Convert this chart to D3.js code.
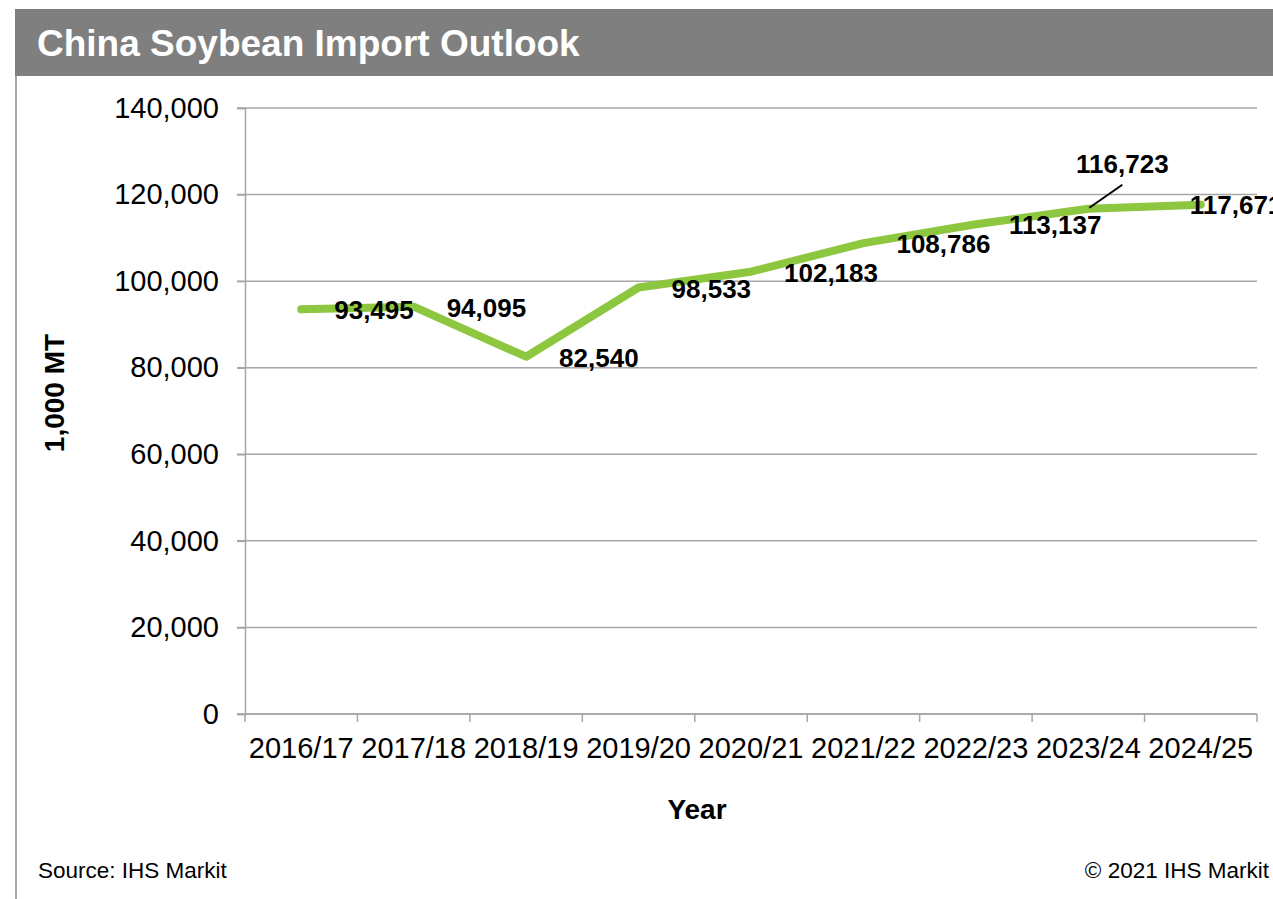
<!DOCTYPE html>
<html>
<head>
<meta charset="utf-8">
<script src="https://cdn.jsdelivr.net/npm/d3@7"></script>
<style>
  html, body { margin: 0; padding: 0; background: #fff; }
  svg { display: block; font-family: "Liberation Sans", Arial, sans-serif; }
</style>
</head>
<body>
<svg id="chart" width="1273" height="899"></svg>
<script>
const categories = ["2016/17","2017/18","2018/19","2019/20","2020/21","2021/22","2022/23","2023/24","2024/25"];
const imports = [93495, 94095, 82540, 98533, 102183, 108786, 113137, 116723, 117671];
const yTicks = [0, 20000, 40000, 60000, 80000, 100000, 120000, 140000];

const svg = d3.select("#chart");
const W = 1273, H = 899;

// Header bar
svg.append("rect").attr("x", 15).attr("y", 9).attr("width", W - 15).attr("height", 67).attr("fill", "#7f7f7f");
svg.append("text").attr("x", 37).attr("y", 56)
  .attr("fill", "#fff").attr("font-size", 37).attr("font-weight", "bold")
  .text("China Soybean Import Outlook");

// Left border
svg.append("line").attr("x1", 16).attr("x2", 16).attr("y1", 76).attr("y2", H)
  .attr("stroke", "#a6a6a6").attr("stroke-width", 2);

const x0 = 245, x1 = 1257, yTop = 108, yBot = 714;
const x = d3.scaleBand().domain(categories).range([x0, x1]).paddingInner(0).paddingOuter(0);
const y = d3.scaleLinear().domain([0, 140000]).range([yBot, yTop]);
const fmt = d3.format(",");

// Gridlines
svg.append("g").selectAll("line").data(yTicks).join("line")
  .attr("x1", x0 - 8).attr("x2", x1)
  .attr("y1", d => y(d)).attr("y2", d => y(d))
  .attr("stroke", "#a6a6a6").attr("stroke-width", 1.5);

// Y axis
const yAxis = svg.append("g").attr("transform", `translate(${x0},0)`)
  .call(d3.axisLeft(y).tickValues(yTicks).tickFormat(fmt).tickSize(8).tickPadding(18));
yAxis.select(".domain").attr("stroke", "#a6a6a6").attr("stroke-width", 1.5);
yAxis.selectAll(".tick line").attr("stroke", "#a6a6a6").attr("stroke-width", 1.5);
yAxis.selectAll(".tick text").attr("font-size", 29).attr("fill", "#000")
  .attr("font-family", "Liberation Sans, Arial, sans-serif");

// X axis
const xAxis = svg.append("g").attr("transform", `translate(0,${yBot})`)
  .call(d3.axisBottom(x).tickSize(0).tickPadding(23));
xAxis.select(".domain").remove();
xAxis.selectAll(".tick text").attr("font-size", 29).attr("fill", "#000")
  .attr("font-family", "Liberation Sans, Arial, sans-serif");
svg.append("line").attr("x1", x0).attr("x2", x1).attr("y1", yBot).attr("y2", yBot)
  .attr("stroke", "#a6a6a6").attr("stroke-width", 1.5);
const bounds = categories.map(c => x(c)).concat([x1]);
svg.append("g").selectAll("line").data(bounds).join("line")
  .attr("x1", d => d).attr("x2", d => d).attr("y1", yBot).attr("y2", yBot + 8)
  .attr("stroke", "#a6a6a6").attr("stroke-width", 1.5);

// Line
const cx = c => x(c) + x.bandwidth() / 2;
const pts = categories.map((c, i) => [cx(c), y(imports[i])]);
svg.append("path").datum(pts)
  .attr("d", d3.line())
  .attr("fill", "none").attr("stroke", "#8dc63f").attr("stroke-width", 8)
  .attr("stroke-linejoin", "round").attr("stroke-linecap", "round");

// Data labels
const lbl = svg.append("g").attr("font-size", 26).attr("font-weight", "bold").attr("fill", "#000");
pts.forEach((p, i) => {
  const t = fmt(imports[i]);
  if (i === 7) {
    svg.append("line").attr("x1", p[0] + 1).attr("y1", p[1] - 1)
      .attr("x2", p[0] + 34).attr("y2", p[1] - 24)
      .attr("stroke", "#000").attr("stroke-width", 2);
    lbl.append("text").attr("x", p[0] + 34).attr("y", p[1] - 45)
      .attr("text-anchor", "middle").attr("dy", "0.35em").text(t);
  } else if (i === 8) {
    lbl.append("text").attr("x", p[0] - 11).attr("y", p[1])
      .attr("dy", "0.35em").text(t);
  } else {
    lbl.append("text").attr("x", p[0] + 33).attr("y", p[1] + 1)
      .attr("dy", "0.35em").text(t);
  }
});

// Axis titles
svg.append("text").attr("transform", `translate(64,393) rotate(-90)`)
  .attr("text-anchor", "middle").attr("font-size", 28).attr("font-weight", "bold")
  .text("1,000 MT");
svg.append("text").attr("x", 697).attr("y", 819)
  .attr("text-anchor", "middle").attr("font-size", 28).attr("font-weight", "bold")
  .text("Year");

// Footer
svg.append("text").attr("x", 38).attr("y", 878).attr("font-size", 22.5).text("Source: IHS Markit");
svg.append("text").attr("x", 1269).attr("y", 878).attr("text-anchor", "end").attr("font-size", 22.5).text("© 2021 IHS Markit");
</script>
</body>
</html>
